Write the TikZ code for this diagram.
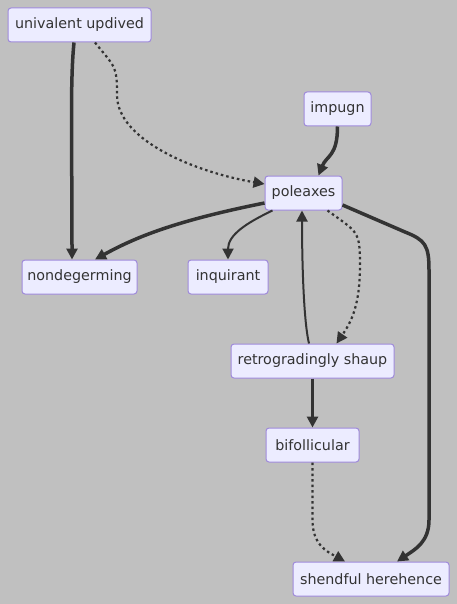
\documentclass[tikz,border=0pt]{standalone}
\usepackage{fontspec}
\setmainfont{DejaVu Sans}
\usetikzlibrary{arrows.meta}
\definecolor{canvasgray}{HTML}{C0C0C0}
\definecolor{boxfill}{HTML}{ECECFF}
\definecolor{boxline}{HTML}{9F8ADB}
\definecolor{edgegray}{HTML}{333333}

\begin{document}
\begin{tikzpicture}[
      x=1pt, y=-1pt,
      box/.style={rectangle, draw=boxline, fill=boxfill, line width=1pt,
                  rounded corners=3pt, minimum height=34pt, inner sep=0pt,
                  text=edgegray, font=\fontsize{14.3}{16}\selectfont},
      link/.style={draw=edgegray, line width=2pt,
                   -{Triangle[length=11pt,width=11pt]}},
      heavy/.style={link, line width=3.5pt},
      dots/.style={link, line width=2.2pt, dash pattern=on 2.5pt off 3pt},
    ]
    \fill[canvasgray] (0,0) rectangle (457,604);
    \useasboundingbox (0,0) rectangle (457,604);

    \node[box, minimum width=143pt] (univalent) at (79.5,25) {univalent updived};
    \node[box, minimum width=67pt] (impugn) at (337.5,109) {impugn};
    \node[box, minimum width=77pt] (poleaxes) at (303.5,193) {poleaxes};
    \node[box, minimum width=115pt] (nondegerming) at (79.5,277) {nondegerming};
    \node[box, minimum width=80pt] (inquirant) at (228,277) {inquirant};
    \node[box, minimum width=163pt] (retro) at (312.5,361) {retrogradingly shaup};
    \node[box, minimum width=93pt] (bifollicular) at (312.5,445) {bifollicular};
    \node[box, minimum width=156pt] (shendful) at (371,579) {shendful herehence};

    \draw[heavy] ([xshift=-5.5pt]univalent.south) .. controls +(-4,40) and +(0,-120) .. ([xshift=-7.5pt]nondegerming.north);
    \draw[dots] ([xshift=15.5pt]univalent.south) .. controls +(20,25) and +(0,-30) .. (117,95)
      .. controls +(0,45) and +(-70,-12) .. ([yshift=9pt]poleaxes.west);
    \draw[heavy] (impugn.south) .. controls +(0,30) and +(8,-20) .. ([xshift=15pt]poleaxes.north);
    \draw[heavy] ([yshift=-10pt]poleaxes.west) .. controls +(-90,18) and +(40,-22) .. ([xshift=15.5pt]nondegerming.north);
    \draw[link] ([xshift=-31pt]poleaxes.south) .. controls +(-25,12) and +(0,-25) .. (inquirant.north);
    \draw[heavy] ([yshift=-12pt]poleaxes.east) -- (405,232) .. controls +(20,8) and +(0,-25) .. (429,270)
      -- (429,520) .. controls +(0,22) and +(18,-12) .. ([xshift=26pt]shendful.north);
    \draw[link] ([xshift=-3.5pt]retro.north) .. controls +(-6,-25) and +(0,40) .. ([xshift=-1.5pt]poleaxes.south);
    \draw[dots] ([xshift=24pt]poleaxes.south) .. controls +(30,22) and +(0,-35) .. (360,265)
      .. controls +(0,40) and +(15,-22) .. ([xshift=24pt]retro.north);
    \draw[heavy] (retro) -- (bifollicular);
    \draw[dots] (bifollicular.south) -- (312.5,520) .. controls +(0,25) and +(-18,-10) .. ([xshift=-26pt]shendful.north);
  \end{tikzpicture}
\end{document}
